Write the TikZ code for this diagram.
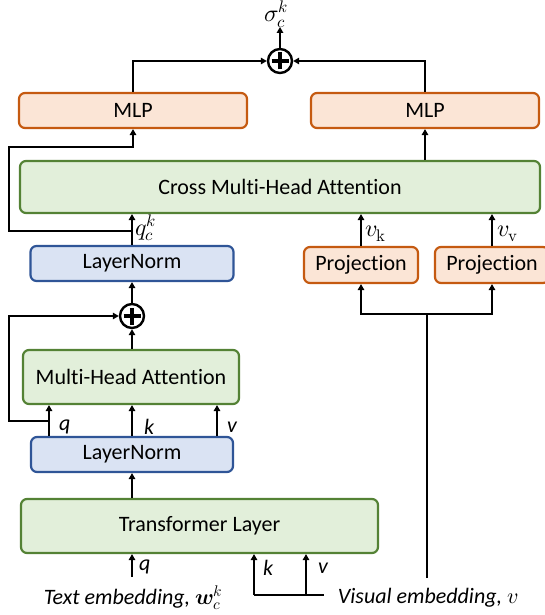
\documentclass[tikz,border=0pt]{standalone}
\usepackage{fontspec}
\usepackage{unicode-math}
\setmainfont{Carlito}[Ligatures=NoCommon]
\setmathfont{Latin Modern Math}
\usetikzlibrary{arrows.meta}
\definecolor{orfill}{HTML}{FBE5D6}
\definecolor{ordraw}{HTML}{C55A11}
\definecolor{grfill}{HTML}{E2EFDA}
\definecolor{grdraw}{HTML}{548235}
\definecolor{blfill}{HTML}{DAE3F3}
\definecolor{bldraw}{HTML}{2F5597}
\begin{document}
\begin{tikzpicture}[x=1pt,y=-1pt,
  every node/.style={font=\fontsize{22}{26}\selectfont, inner sep=0pt},
  box/.style={draw, rounded corners=6pt, line width=2.2pt, minimum height=35pt},
  obox/.style={box, fill=orfill, draw=ordraw},
  gbox/.style={box, fill=grfill, draw=grdraw},
  bbox/.style={box, fill=blfill, draw=bldraw},
  arr/.style={line width=2.4pt, -{Triangle[length=6pt,width=6.5pt]}},
  ln/.style={line width=2.4pt},
  lab/.style={anchor=west, font=\fontsize{22}{26}\selectfont\itshape},
  mlab/.style={anchor=base west, font=\fontsize{24}{28}\selectfont},
  plusc/.style={circle, draw, line width=2.4pt, minimum size=24pt, fill=white},
  plusbar/.style={line width=3.8pt},
]
\useasboundingbox (0,0) rectangle (545,615);

% boxes
\node[obox, minimum width=228pt] (mlp1) at (133,110.5) {MLP};
\node[obox, minimum width=228pt] (mlp2) at (425,110.5) {MLP};
\node[gbox, minimum width=520pt, minimum height=52pt] (cross) at (280,187) {Cross Multi-Head Attention};
\node[bbox, minimum width=203pt] (ln2) at (132,263.5) {LayerNorm};
\node[obox, minimum width=114pt, minimum height=36pt] (proj1) at (361,265) {Projection};
\node[obox, minimum width=114pt, minimum height=36pt] (proj2) at (492,265) {Projection};
\node[gbox, minimum width=216pt, minimum height=54pt] (mha) at (131,377) {Multi-Head Attention};
\node[bbox, minimum width=202pt] (ln1) at (132,454.5) {LayerNorm};
\node[gbox, minimum width=357pt, minimum height=54pt] (tl) at (199.5,526) {Transformer Layer};

% sum nodes
\node[plusc] (p1) at (280,61) {};
\node[plusc] (p2) at (132,316) {};
\foreach \p in {p1,p2}{
  \draw[plusbar] ([xshift=-8.5pt]\p.center) -- ([xshift=8.5pt]\p.center);
  \draw[plusbar] ([yshift=-8.5pt]\p.center) -- ([yshift=8.5pt]\p.center);
}

% labels
\node[mlab, anchor=north west] (sigma) at (264,1) {$\sigma_c^k$};
\node[mlab] (qck) at (135,235) {$q_c^k$};
\node[mlab] (vk) at (365,236) {$v_{\symup{k}}$};
\node[mlab] (vv) at (497,236) {$v_{\symup{v}}$};
\node[lab] (lq) at (59,427) {q};
\node[lab] (lk) at (144,427) {k};
\node[lab] (lv) at (227,427) {v};
\node[lab] (bq) at (139,567) {q};
\node[lab] (bk) at (263,568) {k};
\node[lab] (bv) at (318,568) {v};
\node[font=\fontsize{22}{26}\selectfont\itshape] (txt) at (133,598) {Text embedding, $\symbfit{w}_c^k$};
\node[font=\fontsize{22}{26}\selectfont\itshape] (vis) at (428,598) {Visual embedding, $v$};

% coordinates
\coordinate (sigtip) at (280,27);
\coordinate (j1) at (132,231);
\coordinate (c1) at (9,231);
\coordinate (c2) at (9,147);
\coordinate (j2) at (49,421);
\coordinate (c3) at (9,421);
\coordinate (c4) at (9,316);
\coordinate (xv) at (217,0);
\coordinate (bq0) at (132,577);
\coordinate (kb) at (254,595);
\coordinate (vb) at (306,595);
\coordinate (ve) at (324,595);
\coordinate (vt) at (427,578);
\coordinate (vj) at (427,314);

% top part
\draw[arr] (p1.north) -- (sigtip);
\draw[arr] (mlp1.north) |- (p1.west);
\draw[arr] (mlp2.north) |- (p1.east);
\draw[arr] (mlp2.south |- cross.north) -- (mlp2.south);
\draw[arr] (ln2.north) -- (ln2.north |- cross.south);
\draw[arr] (j1) -- (c1) -- (c2) -| (mlp1.south);
\draw[arr] (proj1.north) -- (proj1.north |- cross.south);
\draw[arr] (proj2.north) -- (proj2.north |- cross.south);

% visual branch
\draw[ln] (vt) -- (vj);
\draw[arr] (vj) -| (proj1.south);
\draw[arr] (vj) -| (proj2.south);

% lower text branch
\draw[arr] (p2.north) -- (ln2.south);
\draw[arr] (p2.south |- mha.north) -- (p2.south);
\draw[arr] (j2) -- (c3) -- (c4) -- (p2.west);
\draw[arr] (j2 |- ln1.north) -- (j2 |- mha.south);
\draw[arr] (ln1.north) -- (ln1.north |- mha.south);
\draw[arr] (xv |- ln1.north) -- (xv |- mha.south);
\draw[arr] (ln1.south |- tl.north) -- (ln1.south);
\draw[arr] (bq0) -- (bq0 |- tl.south);
\draw[ln] (kb) -- (ve);
\draw[arr] (kb) -- (kb |- tl.south);
\draw[arr] (vb) -- (vb |- tl.south);
\end{tikzpicture}
\end{document}
